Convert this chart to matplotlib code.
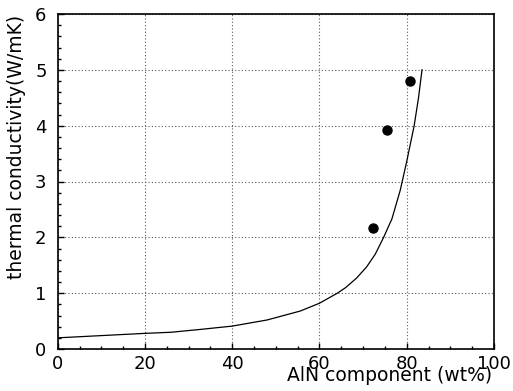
import matplotlib
matplotlib.use("Agg")
import matplotlib.pyplot as plt
from matplotlib.ticker import MultipleLocator

# measured points
aln_wt = [72.2, 75.4, 80.7]
kappa = [2.17, 3.92, 4.80]

# model curve
curve_x = [0, 10, 20, 26, 32.6, 40, 48, 55.6, 60, 64.1, 66.0, 68.5, 70.8,
           72.8, 74.7, 76.6, 78.5, 80.0, 81.7, 82.7, 83.5]
curve_y = [0.20, 0.24, 0.28, 0.30, 0.35, 0.41, 0.52, 0.68, 0.82, 1.00, 1.10,
           1.27, 1.47, 1.70, 2.00, 2.33, 2.84, 3.36, 4.00, 4.50, 5.00]

plt.rcParams['font.family'] = ['DejaVu Sans']
plt.rcParams['font.size'] = 13

fig = plt.figure(figsize=(5.13, 3.91), dpi=100)
ax = fig.add_axes([57.7/513, 42/391, (494-57.7)/513, (349-14)/391])

ax.plot(curve_x, curve_y, color='black', lw=0.9)
ax.plot(aln_wt, kappa, 'o', color='black', ms=6.5)

ax.set_xlim(0, 100)
ax.set_ylim(0, 6)
ax.xaxis.set_major_locator(MultipleLocator(20))
ax.xaxis.set_minor_locator(MultipleLocator(5))
ax.yaxis.set_major_locator(MultipleLocator(1))
ax.yaxis.set_minor_locator(MultipleLocator(0.2))
ax.grid(True, which='major', color='0.35', linestyle=(0, (1, 2)), lw=0.8)

ax.tick_params(which='both', direction='in', top=False, right=False)
ax.tick_params(which='major', length=4, width=1)
ax.tick_params(which='minor', length=2.5, width=1)
ax.tick_params(axis='x', pad=4)
ax.tick_params(axis='y', pad=8)
for s in ax.spines.values():
    s.set_linewidth(1.2)

fig.text(17/513, 1 - 15/391, 'thermal conductivity(W/mK)', rotation=90,
         ha='center', va='top', fontsize=13.5)
fig.text(492/513, 1 - 381/391, 'AlN component (wt%)', ha='right',
         va='baseline', fontsize=13.5)

fig.savefig('out.png', dpi=100)
